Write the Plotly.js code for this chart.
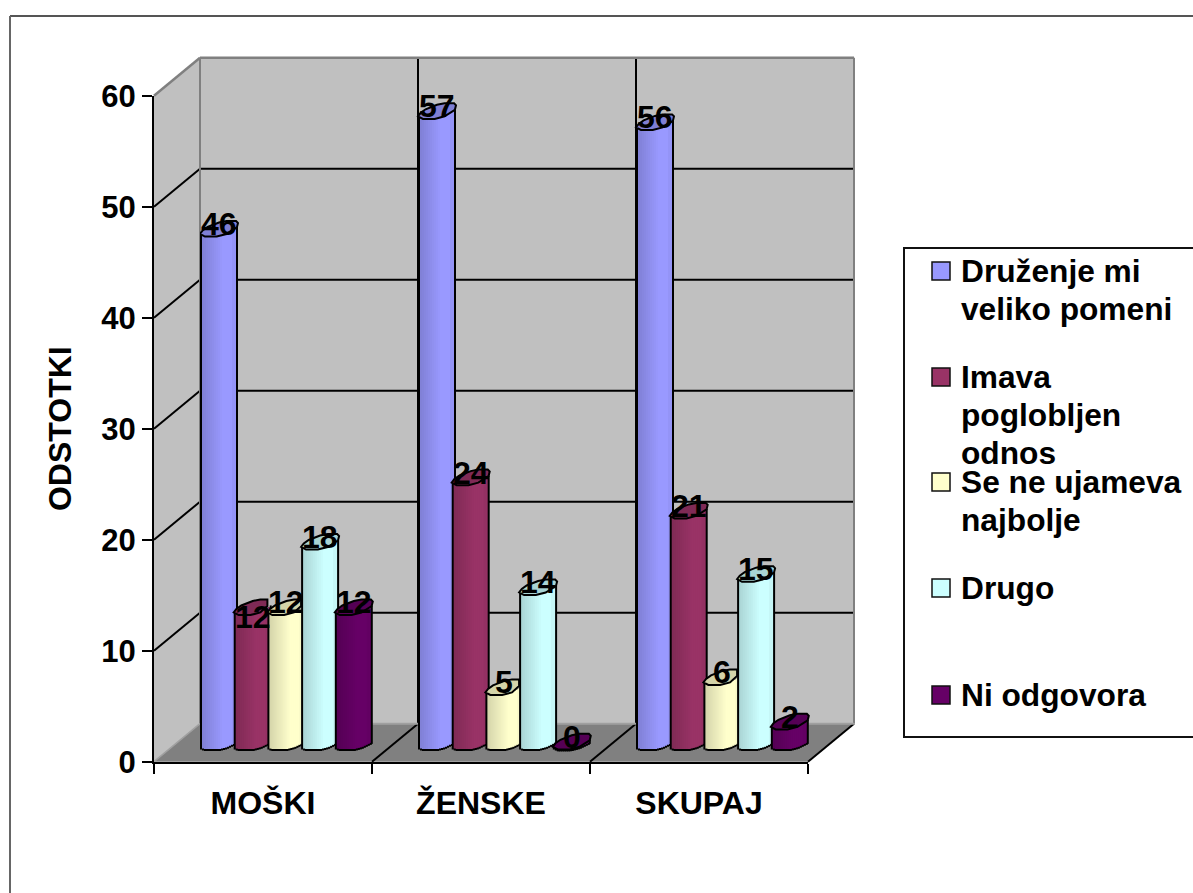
<!DOCTYPE html>
<html><head><meta charset="utf-8">
<script src="https://cdn.plot.ly/plotly-3.0.1.min.js"></script>
<style>html,body{margin:0;padding:0;background:#fff}#c{width:1193px;height:893px}</style>
</head><body><div id="c"></div>
<script>
// ---- data ----
const categories = ['MOŠKI', 'ŽENSKE', 'SKUPAJ'];
const seriesNames = ['Druženje mi<br>veliko pomeni', 'Imava<br>poglobljen<br>odnos', 'Se ne ujameva<br>najbolje', 'Drugo', 'Ni odgovora'];
const druzenje = [46.4, 57, 56];
const poglobljen = [12.3, 24, 21];
const neUjameva = [12.3, 5.1, 6];
const drugo = [18.2, 14.1, 15.3];
const niOdgovora = [12.3, 0.2, 2];
const druzenjeLabels = [46, 57, 56];
const poglobljenLabels = [12, 24, 21];
const neUjamevaLabels = [12, 5, 6];
const drugoLabels = [18, 14, 15];
const niOdgovoraLabels = [12, 0, 2];
const yTicks = [0, 10, 20, 30, 40, 50, 60];
const colors = [[153,153,255],[153,51,102],[255,255,204],[204,255,255],[102,0,102]];

// ---- geometry ----
const W = 1193, H = 893;
const FX0 = 154, FX1 = 808, FY0 = 761.7, UNIT = 11.1;   // front axes
const DX = 46, DY = 38;                                  // depth of the 3-D box
const BASE = 749;                                        // where cylinders stand
const GROUP = 218, STEP = 33.7, CW = 38, STRIP = 2;
const px = x => x / W, py = y => 1 - y / H;
const values = [druzenje, poglobljen, neUjameva, drugo, niOdgovora];
const labels = [druzenjeLabels, poglobljenLabels, neUjamevaLabels, drugoLabels, niOdgovoraLabels];

const lowerArc = [[0,0],[.13,2.6],[.44,2.6],[.7,0],[.97,-6.5],[1,-11]];
const upperArc = [[1,-11],[.95,-13],[.7,-13],[.5,-11.5],[.2,-7],[.07,-3.5],[0,0]];
const baseArc  = [[0,-2],[.1,0],[.5,0],[.7,-2],[.97,-7],[1,-8]];
function interp(arc, u){
  for (let i = 1; i < arc.length; i++) if (u <= arc[i][0]) {
    const a = arc[i-1], b = arc[i];
    return a[1] + (b[1]-a[1]) * (u-a[0]) / (b[0]-a[0]);
  }
  return arc[arc.length-1][1];
}
const shade = u => u < .6 ? .82 + .18*u/.6 : (u > .85 ? .97 : 1);
const rgb = (c, f) => `rgb(${c.map(v => Math.round(v*f)).join(',')})`;
const left = (g, k) => g + k*STEP/GROUP;

// ---- traces ----
const traces = [{x: categories, y: druzenje, type: 'scatter', mode: 'none', xaxis: 'x', yaxis: 'y', hoverinfo: 'skip', showlegend: false}];
values.forEach((vals, k) => {
  const sil = {x:[], y:[], base:[], width:[]}, fill = {x:[], y:[], base:[], width:[], color:[]};
  const n = CW/STRIP;
  vals.forEach((v, g) => {
    const x0 = left(g, k);
    for (let s = 0; s < n; s++) {
      const u = (s + .5) * STRIP / CW;
      const top = v - interp(lowerArc, u) / UNIT;
      const bot = Math.min(top, -interp(baseArc, u) / UNIT);
      const x = x0 + s*STRIP/GROUP;
      sil.x.push(x); sil.y.push(top - bot + 2/UNIT);
      sil.base.push(bot - 2/UNIT); sil.width.push((s < n-1 ? STRIP*1.5 : STRIP)/GROUP);
      if (s > 0 && s < n - 1) {
        fill.x.push(x); fill.y.push(top - bot);
        fill.base.push(bot); fill.width.push((s < n-2 ? STRIP*1.5 : STRIP)/GROUP); fill.color.push(rgb(colors[k], shade(u)));
      }
    }
  });
  const common = {type:'bar', xaxis:'x2', yaxis:'y2', offset:0, hoverinfo:'skip', showlegend:false};
  traces.push({...common, x:sil.x, y:sil.y, base:sil.base, width:sil.width, marker:{color:'#000', line:{width:0}}});
  traces.push({...common, x:fill.x, y:fill.y, base:fill.base, width:fill.width, marker:{color:fill.color, line:{width:0}}});
});

// ---- 3-D box ----
const FY = v => FY0 - v*UNIT;
const poly = (pts, fill, line) => ({type:'path', xref:'paper', yref:'paper', layer:'below',
  path: 'M' + pts.map(p => `${px(p[0])},${py(p[1])}`).join(' L') + ' Z',
  fillcolor: fill, line: line || {width:0}});
const seg = (x0,y0,x1,y1,color,width) => ({type:'line', xref:'paper', yref:'paper', layer:'below',
  x0:px(x0), y0:py(y0), x1:px(x1), y1:py(y1), line:{color, width}});
const shapes = [];
const BX0 = FX0+DX, BX1 = FX1+DX, G = '#808080';
shapes.push(poly([[BX0,FY(60)-DY],[BX1,FY(60)-DY],[BX1,FY(0)-DY],[BX0,FY(0)-DY]], '#C0C0C0'));
shapes.push(poly([[FX0,FY(60)],[BX0,FY(60)-DY],[BX0,FY(0)-DY],[FX0,FY(0)]], '#C0C0C0'));
shapes.push(poly([[FX0,FY(0)],[BX0,FY(0)-DY],[BX1,FY(0)-DY],[FX1,FY(0)]], '#808080'));
yTicks.slice(1,-1).forEach(v => {
  shapes.push(seg(FX0,FY(v),BX0,FY(v)-DY,'#000',2));
  shapes.push(seg(BX0,FY(v)-DY,BX1,FY(v)-DY,'#000',2));
});
[1,2].forEach(i => {
  const x = FX0 + i*GROUP;
  shapes.push(seg(x+DX,FY(60)-DY,x+DX,FY(0)-DY,'#000',2));
  shapes.push(seg(x,FY(0),x+DX,FY(0)-DY,'#000',2));
});
shapes.push(seg(FX1,FY(0),BX1,FY(0)-DY,'#000',2));
shapes.push(seg(FX0,FY(60),BX0,FY(60)-DY,G,2.5));
shapes.push(seg(BX0,FY(60)-DY,BX1,FY(60)-DY,G,2.5));
shapes.push(seg(BX0,FY(60)-DY,BX0,FY(0)-DY,G,2));
shapes.push(seg(BX1,FY(60)-DY,BX1,FY(0)-DY,G,2));
shapes.push(seg(FX0,FY(0),BX0,FY(0)-DY,'#a0a0a0',1.5));
shapes.push(seg(BX0,FY(0)-DY,BX1,FY(0)-DY,'#a0a0a0',2));

// outer frame
shapes.push(seg(10,16,W,16,'#555',2));
shapes.push(seg(10,16,10,H,'#666',2));

// ---- cylinder tops ----
values.forEach((vals, k) => vals.forEach((v, g) => {
  const x0 = left(g, k);
  const next = k < values.length-1 ? values[k+1][g] : -1;
  const limit = next >= v ? left(g, k+1) : Infinity;
  const pts = lowerArc.concat(upperArc).map(p => [Math.min(x0 + p[0]*CW/GROUP, limit), v - p[1]/UNIT]);
  shapes.push({type:'path', xref:'x2', yref:'y2', layer:'above',
    path:'M' + pts.map(p => p.join(',')).join(' L') + ' Z',
    fillcolor: rgb(colors[k], .83), line:{color:'#000', width:2}});
}));

// ---- legend box ----
const LEG = {x0:904, y0:248, y1:737, lineGap:38};
shapes.push({type:'path', xref:'paper', yref:'paper', layer:'above',
  path:`M${px(W+5)},${py(LEG.y0)} L${px(LEG.x0)},${py(LEG.y0)} L${px(LEG.x0)},${py(LEG.y1)} L${px(W+5)},${py(LEG.y1)}`,
  fillcolor:'#fff', line:{color:'#111', width:2}});
const FONT = {family:'"Liberation Sans", Arial, sans-serif', color:'#000', weight:700};
const annotations = [];
const swatchY = [271, 377, 482, 588, 695];
seriesNames.forEach((name, i) => {
  shapes.push({type:'rect', xref:'paper', yref:'paper', layer:'above',
    x0:px(932), x1:px(950), y0:py(swatchY[i]-9), y1:py(swatchY[i]+9),
    fillcolor:rgb(colors[i],1), line:{color:'#111', width:1.5}});
  name.split('<br>').forEach((line, j) => annotations.push({xref:'paper', yref:'paper', x:px(959),
    y:py(swatchY[i] + j*LEG.lineGap), xanchor:'left', yanchor:'middle', align:'left',
    showarrow:false, text:line, font:{...FONT, size:31.7}}));
});

// ---- data labels ----
labels.forEach((arr, k) => arr.forEach((t, g) => {
  const below = k === 1 && g === 0;
  annotations.push({xref:'x2', yref:'y2', x:left(g,k) + (CW/2)/GROUP, y:values[k][g], showarrow:false,
    text:String(t), font:{...FONT, size:32}, xanchor:'center', yanchor:'middle', yshift: below ? -5 : 10});
}));

// ---- layout ----
const Y2_LO = -5, Y2_HI = 65;
const layout = {
  width:W, height:H, margin:{l:0,r:0,t:0,b:0}, paper_bgcolor:'#fff', plot_bgcolor:'rgba(0,0,0,0)',
  barmode:'overlay', showlegend:false, shapes, annotations,
  font:FONT,
  xaxis:{domain:[px(FX0),px(FX1)], type:'category', categoryorder:'array', categoryarray:categories,
    range:[-.5,2.5], tickson:'boundaries', ticks:'outside', ticklen:10, tickwidth:2, tickcolor:'#000',
    showline:true, linecolor:'#000', linewidth:2, showgrid:false, zeroline:false, anchor:'y',
    tickfont:{...FONT, size:32}, ticklabelstandoff:12, fixedrange:true},
  yaxis:{domain:[py(FY(0)),py(FY(60))], range:[0,60], tickvals:yTicks, ticks:'outside', ticklen:10, tickwidth:2, tickcolor:'#000',
    showline:true, linecolor:'#000', linewidth:2, showgrid:false, zeroline:false, anchor:'x',
    tickfont:{...FONT, size:31}, title:{text:'ODSTOTKI', font:{...FONT, size:32}, standoff:20}, fixedrange:true},
  xaxis2:{domain:[px(BX0),px(BX1)], range:[0,3], anchor:'y2', visible:false, fixedrange:true},
  yaxis2:{domain:[py(BASE - Y2_LO*UNIT),py(BASE - Y2_HI*UNIT)], range:[Y2_LO,Y2_HI], anchor:'x2', visible:false, fixedrange:true}
};
Plotly.newPlot('c', traces, layout, {staticPlot:true, displayModeBar:false});
</script></body></html>
